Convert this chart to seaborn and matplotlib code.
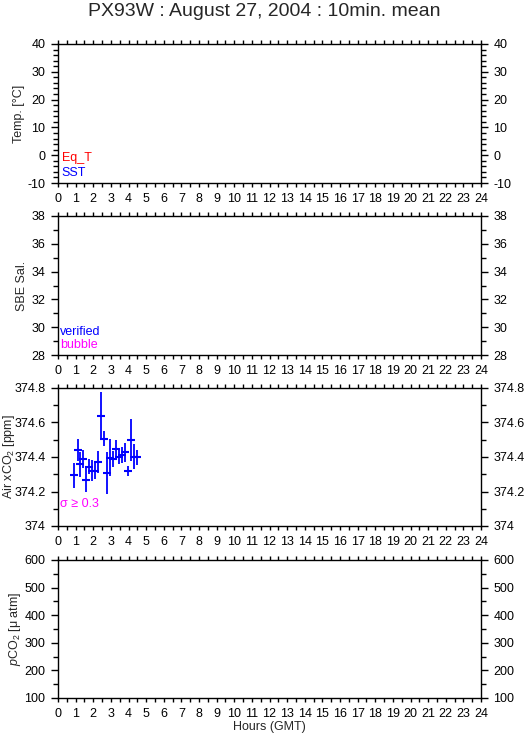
import numpy as np
import pandas as pd
import seaborn as sns
import matplotlib
matplotlib.use("Agg")
import matplotlib.pyplot as plt
from matplotlib.ticker import MultipleLocator, FormatStrFormatter

# 10 min. mean air xCO2 (hours GMT, ppm, std dev)
hours = [0.93, 1.12, 1.27, 1.44, 1.61, 1.78, 1.95, 2.12, 2.29, 2.46, 2.63,
         2.80, 2.97, 3.14, 3.29, 3.46, 3.61, 3.78, 3.95, 4.12, 4.29, 4.46]
xco2 = [374.294, 374.439, 374.358, 374.387, 374.267, 374.344, 374.319, 374.319,
        374.371, 374.638, 374.506, 374.305, 374.396, 374.387, 374.444, 374.402,
        374.412, 374.427, 374.319, 374.497, 374.402, 374.398]
xco2_err = [0.074, 0.063, 0.072, 0.053, 0.072, 0.045, 0.061, 0.045, 0.065, 0.139,
            0.043, 0.122, 0.109, 0.045, 0.053, 0.042, 0.048, 0.055, 0.031, 0.123,
            0.074, 0.042]

title = "PX93W : August 27, 2004 : 10min. mean"
ylabels = ["Temp. [°C]", "SBE Sal.", "Air xCO$_2$ [ppm]", "$p$CO$_2$ [μ atm]"]
ylims = [(-10, 40), (28, 38), (374, 374.8), (100, 600)]
ymajor = [10, 2, 0.2, 100]
yminor = [2, 1, 0.1, 50]
hour_ticks = list(range(0, 25))

sns.set_style("ticks")
plt.rcParams['font.family'] = ['Liberation Sans', 'DejaVu Sans']
plt.rcParams['mathtext.fontset'] = 'custom'
plt.rcParams['mathtext.rm'] = 'Liberation Sans'
plt.rcParams['mathtext.it'] = 'Liberation Sans:italic'

fig = plt.figure(figsize=(5.29, 7.39), dpi=100)
W, H = 529, 739
left, right = 58, 481
panel_px = [(44, 183), (216, 355), (388, 526), (560, 698)]
label_x = [25, 28, 17, 23]  # right edge of rotated y labels, px

axes = []
for i, (top, bot) in enumerate(panel_px):
    ax = fig.add_axes([left / W, 1 - bot / H, (right - left) / W, (bot - top) / H])
    ax.set_xlim(0, 24)
    ax.set_ylim(*ylims[i])
    ax.set_xticks(hour_ticks)
    ax.xaxis.set_minor_locator(MultipleLocator(0.5))
    ax.yaxis.set_major_locator(MultipleLocator(ymajor[i]))
    ax.yaxis.set_minor_locator(MultipleLocator(yminor[i]))
    ax.yaxis.set_major_formatter(FormatStrFormatter('%g'))
    ax.tick_params(axis='both', which='both', direction='out', labelsize=9,
                   width=1, color='black', labelcolor='black')
    ax.tick_params(axis='x', which='both', top=True, length=3, pad=4)
    ax.tick_params(axis='y', which='major', left=True, right=True,
                   labelleft=True, labelright=True, length=5, pad=4)
    ax.tick_params(axis='y', which='minor', left=True, right=True, length=3.5)
    for sp in ax.spines.values():
        sp.set_linewidth(1)
        sp.set_color('black')
    ax.set_ylabel(ylabels[i], fontsize=9)
    ax.yaxis.set_label_coords((label_x[i] - left) / (right - left), 0.5)
    axes.append(ax)

# data panel
ax3 = axes[2]
ax3.errorbar(hours, xco2, yerr=xco2_err, fmt='none', ecolor='#0000ff',
             elinewidth=1.3, capsize=0)
df = pd.DataFrame({'hours': hours, 'xco2': xco2})
sns.scatterplot(data=df, x='hours', y='xco2', marker='_', s=30, color='#0000ff',
                linewidth=1.5, ax=ax3, legend=False)
ax3.set_xlabel('')
ax3.set_ylabel(ylabels[2], fontsize=9)
ax3.yaxis.set_label_coords((label_x[2] - left) / (right - left), 0.5)

# legend-like labels
axes[0].text(0.009, 0.18, "Eq_T", color='red', fontsize=9, transform=axes[0].transAxes, va='center')
axes[0].text(0.009, 0.074, "SST", color='blue', fontsize=9, transform=axes[0].transAxes, va='center')
axes[1].text(0.005, 0.165, "verified", color='blue', fontsize=9, transform=axes[1].transAxes, va='center')
axes[1].text(0.005, 0.072, "bubble", color='magenta', fontsize=9, transform=axes[1].transAxes, va='center')
ax3.text(0.005, 0.16, "σ ≥ 0.3", color='magenta', fontsize=9, transform=ax3.transAxes, va='center')

axes[3].set_xlabel("Hours (GMT)", fontsize=9, labelpad=1)
fig.text(0.5, 1 - 12 / H, title, ha='center', va='center', fontsize=14)

fig.savefig("out.png", dpi=100)
